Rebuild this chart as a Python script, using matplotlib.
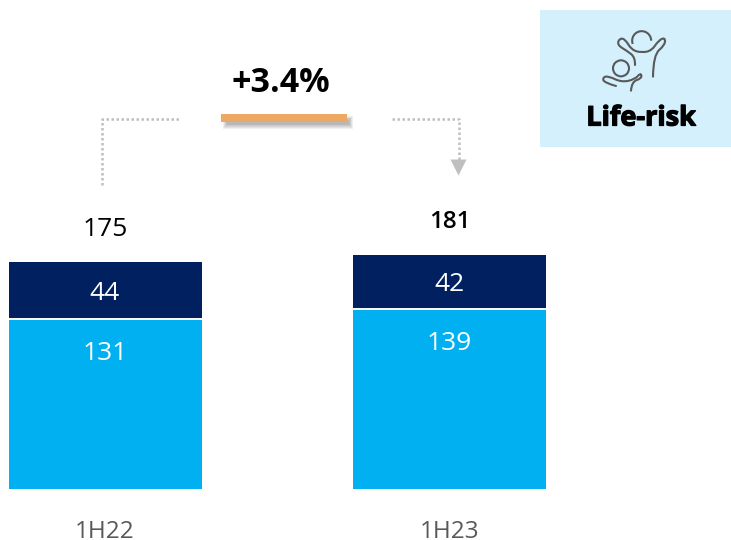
import matplotlib
matplotlib.use("Agg")
import matplotlib.pyplot as plt
import matplotlib.patheffects as pe
from matplotlib.patches import Rectangle, Circle, Arc, Polygon, PathPatch
from matplotlib.path import Path

periods = ["1H22", "1H23"]
lower = [131, 139]
upper = [44, 42]
totals = [175, 181]
growth = "+3.4%"
tag = "Life-risk"

W, H = 731, 540
plt.rcParams['font.family'] = ['Open Sans', 'Noto Sans', 'DejaVu Sans']
fig = plt.figure(figsize=(W / 100, H / 100), dpi=100, facecolor='white')

# overlay in pixel coordinates (y down)
ov = fig.add_axes([0, 0, 1, 1])
ov.set_xlim(0, W)
ov.set_ylim(H, 0)
ov.axis('off')
ov.patch.set_alpha(0)
ov.set_zorder(1)

# bars
c0, step, bar_w = 105.0, 344.5, 193.0
px_unit = 1.2928
base = 488.5
ax = fig.add_axes([0, (H - base) / H, 1, 181 * px_unit / H])
ax.set_zorder(0)
ax.set_xlim(-c0 / step, (W - c0) / step)
ax.set_ylim(0, 181)
ax.axis('off')
xs = list(range(len(periods)))
ax.bar(xs, lower, width=bar_w / step, color='#00B0F0', edgecolor='none')
ax.bar(xs, upper, bottom=lower, width=bar_w / step, color='#002060', edgecolor='none')
for x, l in zip(xs, lower):
    ax.plot([x - bar_w / step / 2, x + bar_w / step / 2], [l, l], color='white', lw=1.4,
            solid_capstyle='butt', clip_on=False)

# value labels
lab_y_l = [353, 343]
lab_y_u = [294, 284.5]
lab_y_t = [229, 221.5]
for i, x in enumerate(xs):
    px = c0 + step * x
    ov.text(px, lab_y_l[i], str(lower[i]), color='white', fontsize=19, ha='center', va='center')
    ov.text(px, lab_y_u[i], str(upper[i]), color='white', fontsize=19, ha='center', va='center')
    ov.text(px, lab_y_t[i], str(totals[i]), color='black', fontsize=19 if i == 0 else 17.5,
            fontweight='normal' if i == 0 else 'semibold', ha='center', va='center')
    ov.text(px, 537.5, periods[i], color='#595959', fontsize=17.5, ha='center', va='baseline')

# growth annotation
ov.text(281, 83, growth, fontsize=24.5, fontweight='bold', color='black', ha='center', va='center')
for k in range(6):
    g = k * 0.8
    ov.add_patch(Rectangle((227 - g, 120 - g), 122 + 2 * g, 4.5 + 2 * g, fc='#7f7f7f', ec='none', alpha=0.12))
ov.add_patch(Rectangle((220.5, 114), 126.5, 8, fc='#EDA963', ec='none'))

dot = dict(color='#BFBFBF', lw=1.8, linestyle=(0, (1, 1)), solid_capstyle='butt')
ov.plot([101.5, 101.5, 180], [185, 118.5, 118.5], **dot)
ov.plot([392, 458.5, 458.5], [118.5, 118.5, 160], **dot)
ov.add_patch(Polygon([(450.5, 159.5), (466.5, 159.5), (458.5, 175.5)], fc='#BFBFBF', ec='none'))

# tag box
ov.add_patch(Rectangle((540, 10), 191, 137, fc='#D3F0FC', ec='none'))
ov.text(641, 118.5, tag, fontsize=19.5, fontweight='bold', color='black', ha='center', va='center',
        path_effects=[pe.withStroke(linewidth=0.9, foreground='black')])


def pts(seq):
    return [(530 + a / 3, b / 3) for a, b in seq]


def smooth(seq):
    p = pts(seq)
    verts = [p[0]]
    codes = [Path.MOVETO]
    for i in range(1, len(p) - 1):
        mid = ((p[i][0] + p[i + 1][0]) / 2, (p[i][1] + p[i + 1][1]) / 2)
        verts += [p[i], mid]
        codes += [Path.CURVE3, Path.CURVE3]
    verts[-1] = p[-1]
    return Path(verts, codes)


icon = dict(fc='none', ec='#595959', lw=1.5, capstyle='round')
ov.add_patch(PathPatch(smooth([(315, 195), (316, 172), (290, 152), (262, 135), (268, 115), (285, 117),
                               (305, 150), (335, 158), (365, 152), (385, 122), (405, 112), (405, 135),
                               (370, 165), (369, 230)]), **icon))
ov.add_patch(PathPatch(smooth([(258, 258), (222, 248), (218, 232), (235, 228), (275, 247), (315, 238),
                               (332, 218), (336, 235), (305, 245), (303, 272)]), **icon))
ov.add_patch(Circle((530 + 273 / 3, 205 / 3), 8, **icon))
ov.add_patch(Arc((530 + 335 / 3, 122 / 3), 19, 19, theta1=160, theta2=360, angle=0, ec='#595959', lw=1.5))

fig.savefig('out.png', dpi=100)
